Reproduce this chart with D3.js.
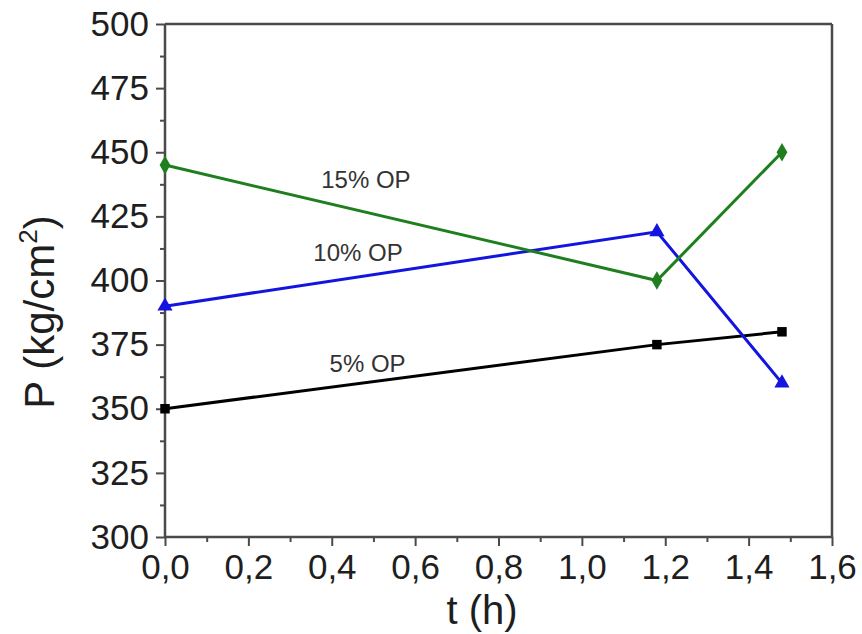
<!DOCTYPE html>
<html>
<head>
<meta charset="utf-8">
<script src="https://cdn.jsdelivr.net/npm/d3@7"></script>
<style>
  html, body { margin: 0; padding: 0; background: #fff; }
  svg { display: block; font-family: "Liberation Sans", Arial, sans-serif; }
</style>
</head>
<body>
<svg id="chart" width="862" height="634"></svg>
<script>
// Time points (h) shared by every series
const times = [0, 1.18, 1.48];

// Pressure (kg/cm²) for each oil percentage
const seriesNames = ["5% OP", "10% OP", "15% OP"];
const p5 = [350, 375, 380];
const p10 = [390, 419, 360];
const p15 = [445, 400, 450];

// Tick values
const xTicks = [0, 0.2, 0.4, 0.6, 0.8, 1.0, 1.2, 1.4, 1.6];
const yTicks = [300, 325, 350, 375, 400, 425, 450, 475, 500];

// Inline label anchor points (data coordinates)
const labelT = [0.486, 0.463, 0.482];
const labelP = [364.5, 407.5, 436];

const svg = d3.select("#chart");
const margin = { left: 165, right: 30, top: 24, bottom: 97 };
const W = 862, H = 634;

const x = d3.scaleLinear().domain([0, 1.6]).range([margin.left, W - margin.right]);
const y = d3.scaleLinear().domain([300, 500]).range([H - margin.bottom, margin.top]);

const axisColor = "#4a4a4a";
const textColor = "#1e1e1e";
const fmt = d => d3.format(".1f")(d).replace(".", ",");

// Minor ticks
const xMinor = d3.range(0.1, 1.6, 0.2);
const yMinor = d3.range(312.5, 500, 25);

const gx = svg.append("g").attr("transform", `translate(0,${y(300)})`);
gx.call(d3.axisBottom(x).tickValues(xTicks).tickFormat(fmt).tickSize(9).tickPadding(8));
gx.append("g").call(d3.axisBottom(x).tickValues(xMinor).tickFormat("").tickSize(5))
  .select(".domain").remove();

const gy = svg.append("g").attr("transform", `translate(${x(0)},0)`);
gy.call(d3.axisLeft(y).tickValues(yTicks).tickFormat(d3.format("d")).tickSize(9).tickPadding(7));
gy.append("g").call(d3.axisLeft(y).tickValues(yMinor).tickFormat("").tickSize(5))
  .select(".domain").remove();

[gx, gy].forEach(g => {
  g.selectAll(".domain").attr("stroke", axisColor).attr("stroke-width", 2.5);
  g.selectAll(".tick line").attr("stroke", axisColor).attr("stroke-width", 2);
  g.selectAll(".tick text").attr("fill", textColor).style("font-size", "35px");
});
gx.selectAll(".domain").attr("d", `M${x(0)},0H${x(1.6)}`);
gy.selectAll(".domain").attr("d", `M0,${y(300)}V${y(500)}`);

// Top and right frame lines
svg.append("line").attr("x1", x(0)).attr("x2", x(1.6)).attr("y1", y(500)).attr("y2", y(500))
  .attr("stroke", axisColor).attr("stroke-width", 2.5);
svg.append("line").attr("x1", x(1.6)).attr("x2", x(1.6)).attr("y1", y(500)).attr("y2", y(300))
  .attr("stroke", axisColor).attr("stroke-width", 2.5);

// Axis titles
svg.append("text")
  .attr("x", 482).attr("y", 624)
  .attr("text-anchor", "middle")
  .attr("fill", textColor)
  .style("font-size", "40px")
  .text("t (h)");

const yt = svg.append("text")
  .attr("transform", "translate(54,312) rotate(-90)")
  .attr("text-anchor", "middle")
  .attr("fill", textColor)
  .style("font-size", "42px");
yt.append("tspan").text("P (kg/cm");
yt.append("tspan").attr("dy", -17).style("font-size", "26px").text("2");
yt.append("tspan").attr("dy", 17).text(")");

// Series
const series = [
  { name: seriesNames[0], values: p5, color: "#000000", shape: d3.symbolSquare, size: 90 },
  { name: seriesNames[1], values: p10, color: "#1414e0", shape: d3.symbolTriangle, size: 100 },
  { name: seriesNames[2], values: p15, color: "#1f7f1f", shape: d3.symbolDiamond, size: 100 }
];

const line = d3.line().x(d => x(d[0])).y(d => y(d[1]));

series.forEach((s, i) => {
  const pts = times.map((t, j) => [t, s.values[j]]);
  svg.append("path")
    .datum(pts)
    .attr("d", line)
    .attr("fill", "none")
    .attr("stroke", s.color)
    .attr("stroke-width", 3);
  svg.append("g").selectAll("path")
    .data(pts)
    .join("path")
    .attr("transform", d => `translate(${x(d[0])},${y(d[1])})`)
    .attr("d", d3.symbol().type(s.shape).size(s.size))
    .attr("fill", s.color);
  svg.append("text")
    .attr("x", x(labelT[i]))
    .attr("y", y(labelP[i]))
    .attr("text-anchor", "middle")
    .attr("fill", "#333")
    .style("font-size", "24px")
    .text(s.name);
});
</script>
</body>
</html>
